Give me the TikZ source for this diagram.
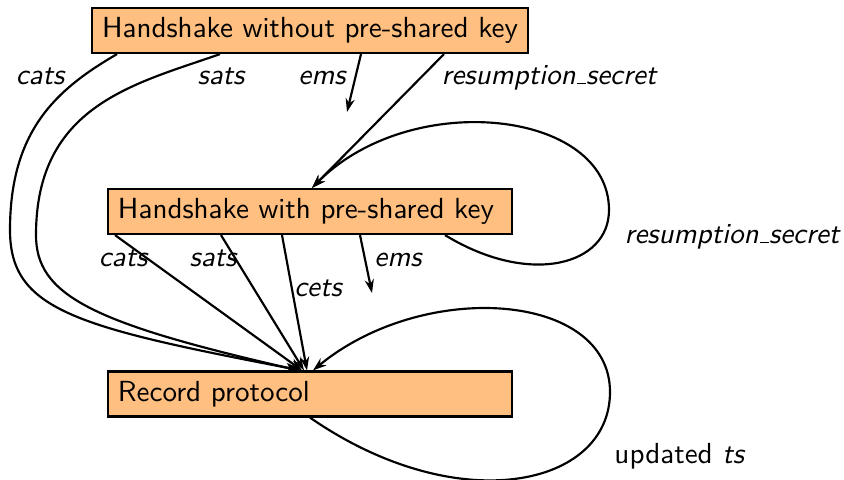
\documentclass[tikz,border=0pt]{standalone}
\usepackage{fontspec}
\usetikzlibrary{arrows.meta,calc}
\newcommand\usc{\leavevmode\kern.06em\vbox{\hrule width.3em}}
\newcommand\myfs{\fontsize{10.75}{13}\selectfont}
\tikzset{
  box/.style={draw=black, line width=0.8pt, fill=orange!50, minimum height=16.65pt, inner ysep=0pt, font=\sffamily\myfs},
  leftbox/.style={box, text width=142.1pt, align=left, inner xsep=3.7pt},
  lab/.style={font=\sffamily\itshape\myfs, anchor=base, inner sep=0pt},
  conn/.style={line width=0.8pt, -{Stealth[length=5pt,width=3.4pt]}}
}
\begin{document}
\begin{tikzpicture}[x=0.37pt,y=-0.37pt]
\useasboundingbox (0,0) rectangle (844,479);
\node[box, minimum width=161.3pt] (b1) at (310,30.5) {Handshake without pre-shared key};
\node[leftbox] (b2) at (310,211.5) {Handshake with pre-shared key};
\node[leftbox] (b3) at (310,394) {Record protocol};
\coordinate (e1) at (347,112);
\coordinate (e2) at (372,293);
\coordinate (m1) at (10,230);
\coordinate (m2) at (36,235);
\coordinate (m3) at (609,210);
\coordinate (m4) at (610,392);
% from b1
\draw[conn] ($(b1.south)+(-193,0)$) .. controls (57,89) and (10,130) .. (m1)
  .. controls (10,310) and (75,327) .. ($(b3.north)+(-9,0)$);
\draw[conn] ($(b1.south)+(-90,0)$) .. controls (135,84) and (36,105) .. (m2)
  .. controls (36,295) and (91,323) .. ($(b3.north)+(-11,0)$);
\draw[conn] ($(b1.south)+(51,0)$) -- (e1);
\draw[conn] ($(b1.south)+(134,0)$) -- ($(b2.north)+(2,0)$);
% from b2
\draw[conn] ($(b2.south)+(-195,0)$) -- ($(b3.north)+(-8,0)$);
\draw[conn] ($(b2.south)+(-89,0)$) -- ($(b3.north)+(-6,0)$);
\draw[conn] ($(b2.south)+(-28,0)$) -- ($(b3.north)+(-3,0)$);
\draw[conn] ($(b2.south)+(50,0)$) -- (e2);
\draw[conn] ($(b2.south)+(135,0)$) .. controls (530,287) and (609,265) .. (m3)
  .. controls (609,110) and (411,88) .. ($(b2.north)+(2,0)$);
% from b3
\draw[conn] (b3.south) .. controls (458,520) and (610,487) .. (m4)
  .. controls (610,292) and (424,279) .. ($(b3.north)+(3,0)$);
% labels
\node[lab] (l1) at (40,84) {cats};
\node[lab] (l2) at (221,84) {sats};
\node[lab] (l3) at (322,84) {ems};
\node[lab] (l4) at (549,84) {resumption\usc secret};
\node[lab] (l5) at (123,266) {cats};
\node[lab] (l6) at (213,266) {sats};
\node[lab] (l7) at (318,296) {cets};
\node[lab] (l8) at (398,266) {ems};
\node[lab] (l9) at (732,243) {resumption\usc secret};
\node[lab, font=\sffamily\myfs] (l10) at (680,463) {updated \textit{ts}};
\end{tikzpicture}
\end{document}
